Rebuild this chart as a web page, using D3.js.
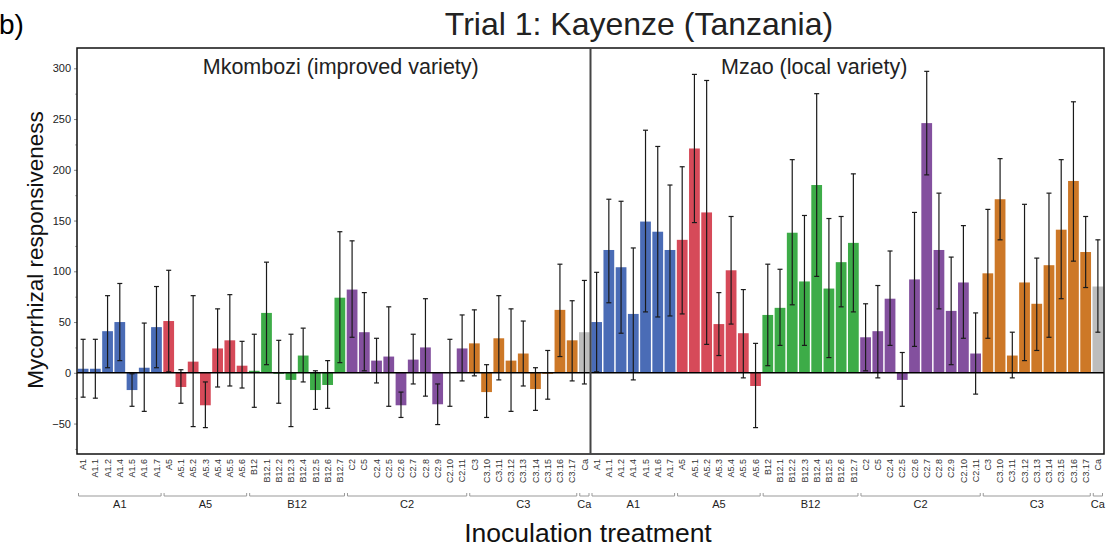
<!DOCTYPE html>
<html>
<head>
<meta charset="utf-8">
<script src="https://cdn.jsdelivr.net/npm/d3@7"></script>
<style>
  body { margin: 0; background: #fff; }
  svg { font-family: "Liberation Sans", Arial, Helvetica, sans-serif; }
</style>
</head>
<body>
<div id="chart"></div>
<script>
// categories (same for both panels)
var categories = ["A1","A1.1","A1.2","A1.4","A1.5","A1.6","A1.7",
  "A5","A5.1","A5.2","A5.3","A5.4","A5.5","A5.6",
  "B12","B12.1","B12.2","B12.3","B12.4","B12.5","B12.6","B12.7",
  "C2","C5","C2.4","C2.5","C2.6","C2.7","C2.8","C2.9","C2.10","C2.11",
  "C3","C3.10","C3.11","C3.12","C3.13","C3.14","C3.15","C3.16","C3.17",
  "Ca"];
var groupOf = ["A1","A1","A1","A1","A1","A1","A1",
  "A5","A5","A5","A5","A5","A5","A5",
  "B12","B12","B12","B12","B12","B12","B12","B12",
  "C2","C2","C2","C2","C2","C2","C2","C2","C2","C2",
  "C3","C3","C3","C3","C3","C3","C3","C3","C3",
  "Ca"];
var groupNames = ["A1","A5","B12","C2","C3","Ca"];
var groupColors = ["#4a6cb6","#d64a59","#3dac48","#83509e","#cd7827","#bdbdbd"];

// Mkombozi (improved variety)
var mkMean = [4,4,41,50,-17,5,45, 51,-14,11,-32,24,32,7, 2,59,-1,-7,17,-17,-12,74,
  82,40,12,16,-32,13,25,-31,0,24, 29,-19,34,12,19,-16,-1,62,32, 40];
var mkLow = [-24,-25,5,12,-33,-38,5, 1,-30,-53,-54,-14,-13,-15, -34,8,-30,-53,-9,-36,-35,10,
  35,2,-10,-33,-44,-11,-23,-51,-33,-8, -3,-44,-7,-38,-13,-37,-26,16,-8, -11];
var mkHigh = [33,33,76,88,-1,49,85, 101,3,76,-9,63,77,31, 38,109,32,38,44,2,12,139,
  130,79,34,65,-19,38,73,-11,33,57, 62,8,76,63,51,5,22,107,71, 91];

// Mzao (local variety)
var mzMean = [50,121,104,58,149,139,121, 131,221,158,48,101,39,-13, 57,64,138,90,185,83,109,128,
  35,41,73,-7,92,246,121,61,89,19, 98,171,17,89,68,106,141,189,119, 85];
var mzLow = [1,69,39,-7,60,55,56, 58,148,28,17,48,-5,-54, 7,27,67,27,95,15,65,60,
  2,-5,27,-33,26,195,63,8,34,-21, 34,131,-5,12,22,35,73,110,84, 40];
var mzHigh = [99,171,169,123,239,223,185, 203,294,288,79,154,82,29, 107,102,210,155,275,152,154,196,
  68,86,120,20,158,297,177,114,145,59, 161,211,40,166,113,177,210,267,154, 131];

var panels = [
  {title: "Mkombozi (improved variety)", mean: mkMean, low: mkLow, high: mkHigh},
  {title: "Mzao (local variety)", mean: mzMean, low: mzLow, high: mzHigh}
];

var W = 1106, H = 551;
var plotLeft = 77, plotRight = 1104, plotTop = 48, plotBottom = 454;
var panelW = (plotRight - plotLeft) / 2;
// panel label centres are a bit off the panel middle in the original
var labelShift = [7, -33];

var svg = d3.select("#chart").append("svg")
  .attr("width", W)
  .attr("height", H);

var y = d3.scaleLinear()
  .domain([-80, 320])
  .range([plotBottom, plotTop]);

var color = d3.scaleOrdinal().domain(groupNames).range(groupColors);

// titles
svg.append("text")
  .attr("x", -1).attr("y", 34)
  .attr("font-size", 28)
  .text("b)");

svg.append("text")
  .attr("x", 639).attr("y", 35)
  .attr("text-anchor", "middle")
  .attr("font-size", 32)
  .attr("fill", "#222")
  .text("Trial 1: Kayenze (Tanzania)");

// y axis
var yAxis = svg.append("g")
  .attr("transform", "translate(" + plotLeft + ",0)")
  .call(d3.axisLeft(y).tickValues(d3.range(-50, 301, 50)).tickSize(3).tickPadding(3));
yAxis.select(".domain").remove();
yAxis.selectAll("line").attr("stroke", "#888");
yAxis.selectAll("text").attr("font-size", 11).attr("fill", "#222")
  .attr("font-family", "Liberation Sans, Arial, sans-serif");

svg.append("g")
  .attr("transform", "translate(" + plotLeft + ",0)")
  .call(d3.axisLeft(y).tickValues(d3.range(-75, 301, 50)).tickSize(2).tickFormat(""))
  .call(g => g.select(".domain").remove())
  .selectAll("line").attr("stroke", "#aaa");

svg.append("text")
  .attr("transform", "translate(43," + 250 + ") rotate(-90)")
  .attr("text-anchor", "middle")
  .attr("font-size", 22.5)
  .attr("fill", "#111")
  .text("Mycorrhizal responsiveness");

svg.append("text")
  .attr("x", 588).attr("y", 542)
  .attr("text-anchor", "middle")
  .attr("font-size", 26.5)
  .attr("fill", "#111")
  .text("Inoculation treatment");

panels.forEach(function(p, pi) {
  var x0 = plotLeft + pi * panelW;
  var x = d3.scaleBand()
    .domain(categories)
    .range([x0, x0 + panelW])
    .paddingInner(0.12)
    .paddingOuter(0.06);

  var g = svg.append("g");

  // bars
  g.selectAll("rect.bar")
    .data(categories)
    .join("rect")
    .attr("class", "bar")
    .attr("x", d => x(d))
    .attr("width", x.bandwidth())
    .attr("y", (d, i) => y(Math.max(0, p.mean[i])))
    .attr("height", (d, i) => Math.abs(y(p.mean[i]) - y(0)))
    .attr("fill", (d, i) => color(groupOf[i]));

  // error bars
  var eb = g.selectAll("g.err")
    .data(categories)
    .join("g")
    .attr("class", "err")
    .attr("stroke", "#1a1a1a")
    .attr("stroke-width", 1.2);
  eb.append("line")
    .attr("x1", d => x(d) + x.bandwidth() / 2)
    .attr("x2", d => x(d) + x.bandwidth() / 2)
    .attr("y1", (d, i) => y(p.low[i]))
    .attr("y2", (d, i) => y(p.high[i]));
  [p.low, p.high].forEach(function(arr) {
    eb.append("line")
      .attr("x1", d => x(d) + x.bandwidth() / 2 - 2.5)
      .attr("x2", d => x(d) + x.bandwidth() / 2 + 2.5)
      .attr("y1", (d, i) => y(arr[i]))
      .attr("y2", (d, i) => y(arr[i]));
  });

  // zero line
  g.append("line")
    .attr("x1", x0).attr("x2", x0 + panelW)
    .attr("y1", y(0)).attr("y2", y(0))
    .attr("stroke", "#000").attr("stroke-width", 1.5);

  // panel label
  g.append("text")
    .attr("x", x0 + panelW / 2 + labelShift[pi]).attr("y", 74)
    .attr("text-anchor", "middle")
    .attr("font-size", 21.5)
    .attr("fill", "#222")
    .text(p.title);

  // x tick labels
  var xAxis = g.append("g")
    .attr("transform", "translate(0," + plotBottom + ")")
    .call(d3.axisBottom(x).tickSize(0).tickPadding(0));
  xAxis.select(".domain").remove();
  xAxis.selectAll("text")
    .attr("font-size", 9)
    .attr("fill", "#333")
    .attr("font-family", "Liberation Sans, Arial, sans-serif")
    .attr("text-anchor", "end")
    .attr("dy", "0.35em")
    .attr("transform", "translate(0,5) rotate(-90)")
    .attr("x", 0).attr("y", 0);

  // group brackets
  groupNames.forEach(function(gn) {
    var members = categories.filter((c, i) => groupOf[i] === gn);
    var a = x(members[0]) - x.step() * x.paddingInner() / 2 + 1.5;
    var b = x(members[members.length - 1]) + x.bandwidth() + x.step() * x.paddingInner() / 2 - 1.5;
    var by = 496;
    g.append("path")
      .attr("d", "M" + a + "," + (by - 3) + "V" + by + "H" + b + "V" + (by - 3))
      .attr("fill", "none")
      .attr("stroke", "#999")
      .attr("stroke-width", 1);
    g.append("text")
      .attr("x", (a + b) / 2).attr("y", 508)
      .attr("text-anchor", "middle")
      .attr("font-size", 11)
      .attr("fill", "#222")
      .text(gn);
  });
});

// frame and divider
svg.append("rect")
  .attr("x", plotLeft).attr("y", plotTop)
  .attr("width", plotRight - plotLeft).attr("height", plotBottom - plotTop)
  .attr("fill", "none").attr("stroke", "#111").attr("stroke-width", 1.5);
svg.append("line")
  .attr("x1", plotLeft + panelW).attr("x2", plotLeft + panelW)
  .attr("y1", plotTop).attr("y2", plotBottom)
  .attr("stroke", "#444").attr("stroke-width", 2);
</script>
</body>
</html>
